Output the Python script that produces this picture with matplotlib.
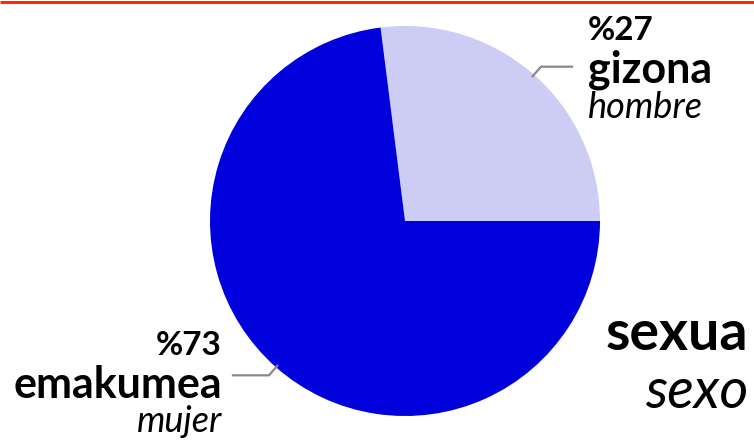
import matplotlib.pyplot as plt
import numpy as np

# data
shares = [27, 73]
labels_eu = ['gizona', 'emakumea']
labels_es = ['hombre', 'mujer']
colors = ['#ccccf5', '#0000dc']
title_eu = 'sexua'
title_es = 'sexo'

W, H = 754, 443
fig = plt.figure(figsize=(W / 100, H / 100), dpi=100)
ax = fig.add_axes([0, 0, 1, 1])

cx, cy, r = 405, H - 221, 195
wedges, _ = ax.pie(shares, colors=colors, startangle=0, counterclock=True,
                   center=(cx, cy), radius=r, frame=True)
ax.set_xlim(0, W)
ax.set_ylim(0, H)
ax.set_aspect('equal')
ax.axis('off')

# top red rule
ax.plot([0, W], [H - 1.5, H - 1.5], color='#ff2a00', lw=2.2, solid_capstyle='butt')

font = 'Lato'
# leader lines + labels
for i, w in enumerate(wedges):
    mid = np.deg2rad((w.theta1 + w.theta2) / 2)
    x0, y0 = cx + r * 0.99 * np.cos(mid), cy + r * 0.99 * np.sin(mid)
    x1, y1 = cx + r * 1.055 * np.cos(mid), cy + r * 1.055 * np.sin(mid)
    if np.cos(mid) > 0:
        x2 = x1 + 31
        tx, ha = 588, 'left'
        base = [40, 82, 118]
    else:
        x2 = x1 - 36
        tx, ha = 222, 'right'
        base = [355, 398, 432]
    ax.plot([x0, x1, x2], [y0, y1, y1], color='#888888', lw=1.6)
    ax.text(tx, H - base[0], f'%{shares[i]}', ha=ha, va='baseline',
            fontsize=24, fontweight='bold', family=font)
    ax.text(tx, H - base[1], labels_eu[i], ha=ha, va='baseline',
            fontsize=31, fontweight='bold', family=font)
    ax.text(tx, H - base[2], labels_es[i], ha=ha, va='baseline',
            fontsize=26, fontstyle='italic', family=font)

ax.text(748, H - 350, title_eu, ha='right', va='baseline',
        fontsize=40, fontweight='bold', family=font)
ax.text(748, H - 408, title_es, ha='right', va='baseline',
        fontsize=40, fontstyle='italic', family=font)

fig.savefig('out.png', dpi=100)
